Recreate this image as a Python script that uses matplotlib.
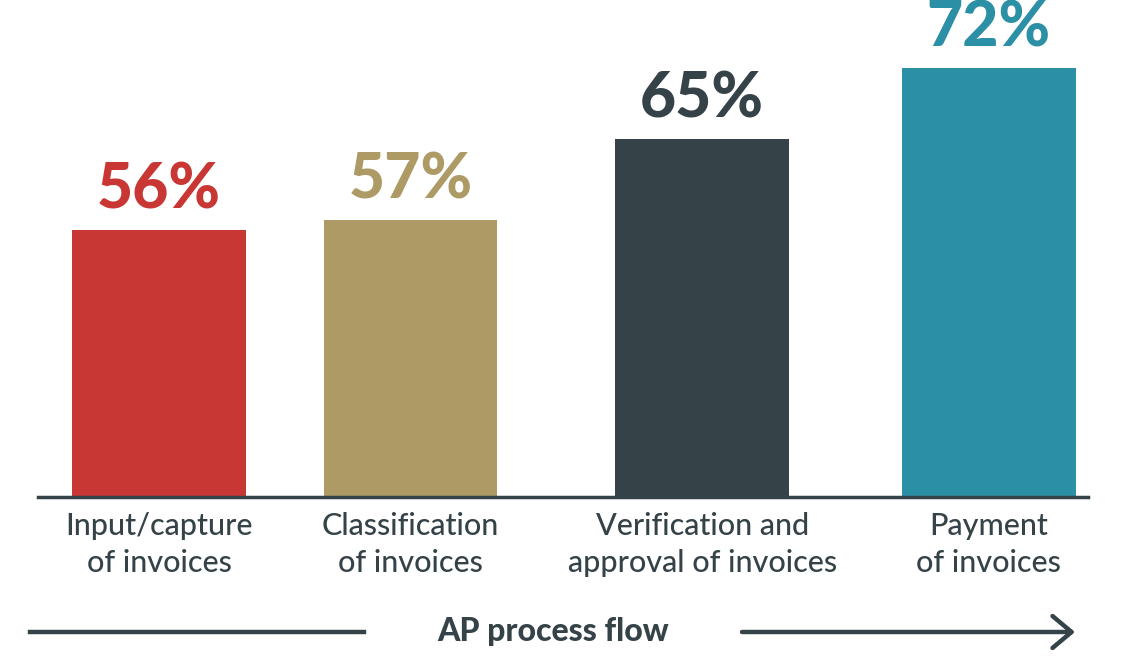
import matplotlib
matplotlib.use("Agg")
import matplotlib.pyplot as plt

############### Data ###############
categories = ["Input/capture\nof invoices", "Classification\nof invoices",
              "Verification and\napproval of invoices", "Payment\nof invoices"]
values = [56, 57, 65, 72]
value_labels = ["56%", "57%", "65%", "72%"]
flow_label = "AP process flow"

############### Style ###############
colors = ["#C83733", "#AE9A65", "#354349", "#2B8FA5"]
ink = "#354349"
positions = [0, 1, 2.16, 3.3]   # uneven spacing as in the original layout
bar_width = 0.69

W, H = 1140, 661
fig = plt.figure(figsize=(W / 100, H / 100), dpi=100)
fig.patch.set_facecolor("white")

# axes spans the baseline, from x=38 to x=1088 px, baseline at y=497 px
ax = fig.add_axes([38 / W, 1 - 497 / H, 1050 / W, 497 / H])
ax.bar(positions, values, width=bar_width, color=colors, zorder=2)
ax.set_xlim(-0.481, 3.694)
ax.set_ylim(29.7, 78.7)

for x, v, lab, c in zip(positions, values, value_labels, colors):
    ax.annotate(lab, (x, v), xytext=(0, 7.5), textcoords="offset points",
                ha="center", va="bottom", color=c, fontsize=45,
                fontweight="black", family="Lato", annotation_clip=False)

for s in ["top", "right", "left"]:
    ax.spines[s].set_visible(False)
ax.spines["bottom"].set_color(ink)
ax.spines["bottom"].set_linewidth(2.5)
ax.set_yticks([])
ax.set_xticks(positions)
ax.set_xticklabels(categories, fontsize=22, color=ink, family="Lato",
                   fontweight="medium", linespacing=1.4)
ax.tick_params(axis="x", length=0, pad=11)

# process flow footer
fig.text(553 / W, 1 - 641 / H, flow_label, ha="center", va="baseline",
         fontsize=23, fontweight="black", color=ink, family="Lato")
ly = 1 - 632 / H
fig.add_artist(plt.Line2D([30 / W, 364 / W], [ly, ly], color=ink, lw=3.2))
ax.annotate("", xy=(1075 / W, ly), xytext=(742 / W, ly),
            xycoords="figure fraction", textcoords="figure fraction",
            arrowprops=dict(arrowstyle="->,head_length=1.37,head_width=1.15",
                            color=ink, lw=3.2, shrinkA=0, shrinkB=0))

fig.savefig("out.png", dpi=100, facecolor="white")
